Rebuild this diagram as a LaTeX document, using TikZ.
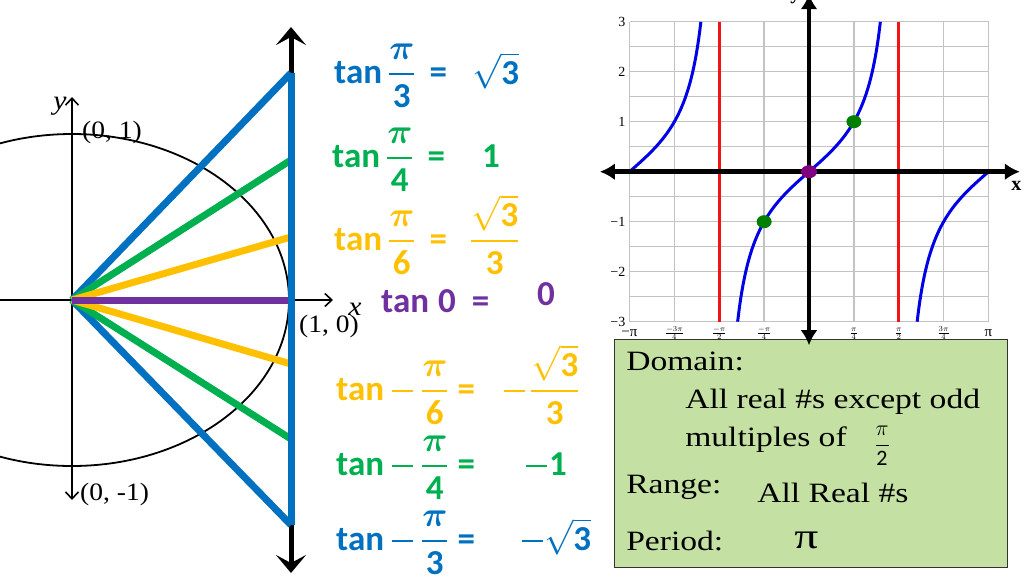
\RequirePackage{fix-cm}
\documentclass[tikz,border=0pt]{standalone}
\usepackage{amsmath}
\usepackage{fontspec}
\setmainfont{Liberation Serif}
\newfontfamily\calib{Carlito}
\usetikzlibrary{arrows.meta}

\definecolor{pblue}{RGB}{0,112,192}
\definecolor{pgreen}{RGB}{0,176,80}
\definecolor{pyellow}{RGB}{255,192,0}
\definecolor{ppurple}{RGB}{112,48,160}
\definecolor{boxgreen}{RGB}{196,224,162}
\definecolor{gridgray}{RGB}{195,195,195}
\definecolor{dotgreen}{RGB}{0,128,0}
\definecolor{dotpurple}{RGB}{128,0,128}
\definecolor{curveblue}{RGB}{0,0,230}
\definecolor{asymred}{RGB}{240,20,20}

\newcommand\bfr[2]{\genfrac{}{}{2.2pt}{0}{#1}{#2}}
\newcommand\bpi{\boldsymbol{\pi}}
\newcommand\bminus{\rule[7.6pt]{21pt}{2.6pt}}

\tikzset{
  ray/.style={line width=7pt},
  thinaxis/.style={line width=1.6pt, -{Straight Barb[length=7pt,width=13pt,line width=1.6pt]}},
  lefttxt/.style={font=\fontsize{25}{28}\selectfont, inner sep=0pt, xscale=1.1},
  tanlab/.style={font=\calib\bfseries\fontsize{35}{40}\selectfont, inner sep=0pt, anchor=base west},
  gridline/.style={gridgray, line width=1.3pt},
  asym/.style={asymred, line width=3pt},
  curve/.style={curveblue, line width=3pt},
  ytick/.style={font=\fontsize{14}{16}\selectfont, inner sep=0pt, anchor=east, xshift=-4pt},
  xtick/.style={font=\fontsize{11}{12}\selectfont, inner sep=0pt, anchor=base},
  gaxis/.style={line width=4.5pt, {Latex[length=15pt,width=17pt]}-{Latex[length=15pt,width=17pt]}},
  boxtxt/.style={font=\fontsize{28}{32}\selectfont, inner sep=0pt, anchor=base west, xscale=1.2},
}

\begin{document}
\begin{tikzpicture}[x=1pt,y=-1pt]
\useasboundingbox (0,0) rectangle (1024,576);

% ---------- left: unit circle ----------
\coordinate (O) at (72,300);
\draw[line width=1.8pt] (O) ellipse [x radius=217pt, y radius=166pt];
\draw[thinaxis] (0,300) -- (333,300);
\draw[thinaxis, {Straight Barb[length=7pt,width=13pt,line width=1.6pt]}-{Straight Barb[length=7pt,width=13pt,line width=1.6pt]}] (72,97) -- (72,500);

\node[lefttxt, font=\itshape\fontsize{27}{28}\selectfont] (ylab) at (60,106) {y};
\node[lefttxt, anchor=west] (p01) at (82,132) {(0, 1)};
\node[lefttxt, anchor=west] (p0m1) at (80,494) {(0, -1)};
\node[lefttxt, anchor=west] (p10) at (299,326) {(1, 0)};
\node[lefttxt, font=\itshape\fontsize{27}{28}\selectfont] (xlab) at (355,309) {x};

\coordinate (E1) at (291,73);
\coordinate (E2) at (291,160);
\coordinate (E3) at (291,237);
\coordinate (E4) at (291,300);
\coordinate (E5) at (291,364);
\coordinate (E6) at (291,439);
\coordinate (E7) at (291,525);
\coordinate (Vt) at (291,27);
\coordinate (Vb) at (291,573);

\draw[line width=5pt, {Stealth[length=18pt,width=30pt,inset=8pt]}-{Stealth[length=18pt,width=30pt,inset=8pt]}] (Vt) -- (Vb);
\draw[ray, pblue] (O) -- (E1);
\draw[ray, pblue] (O) -- (E7);
\draw[ray, pgreen] (O) -- (E2);
\draw[ray, pgreen] (O) -- (E6);
\draw[ray, pyellow] (O) -- (E3);
\draw[ray, pyellow] (O) -- (E5);
\draw[ray, ppurple] (O) -- (E4);
\draw[ray, pblue] (E1) -- (E7);

% ---------- tan labels ----------
\node[tanlab, text=pblue] (t1) at (334,83) {tan\hspace{6pt}$\bfr{\bpi}{\text{3}}$\hspace{14pt}=};
\node[tanlab, text=pblue] (v1) at (472,84) {$\sqrt{\text{3}}$};
\node[tanlab, text=pgreen] (t2) at (332,167) {tan\hspace{6pt}$\bfr{\bpi}{\text{4}}$\hspace{14pt}=};
\node[tanlab, text=pgreen] (v2) at (482,167) {1};
\node[tanlab, text=pyellow] (t3) at (334,250) {tan\hspace{6pt}$\bfr{\bpi}{\text{6}}$\hspace{14pt}=};
\node[tanlab, text=pyellow] (v3) at (470,250) {$\bfr{\sqrt{\text{3}}}{\text{3}}$};
\node[tanlab, text=ppurple] (t4) at (381,312) {tan\hspace{9pt}0\hspace{16pt}=};
\node[tanlab, text=ppurple] (v4) at (537,305) {0};
\node[tanlab, text=pyellow] (t5) at (336,400) {tan\hspace{8pt}\bminus\hspace{8pt}$\bfr{\bpi}{\text{6}}$\hspace{9pt}=};
\node[tanlab, text=pyellow] (v5) at (504,400) {\bminus\hspace{5pt}$\bfr{\sqrt{\text{3}}}{\text{3}}$};
\node[tanlab, text=pgreen] (t6) at (336,475) {tan\hspace{8pt}\bminus\hspace{8pt}$\bfr{\bpi}{\text{4}}$\hspace{9pt}=};
\node[tanlab, text=pgreen] (v6) at (526,475) {\bminus\hspace{2pt}1};
\node[tanlab, text=pblue] (t7) at (336,550) {tan\hspace{8pt}\bminus\hspace{8pt}$\bfr{\bpi}{\text{3}}$\hspace{9pt}=};
\node[tanlab, text=pblue] (v7) at (522,550) {\bminus\hspace{1pt}$\sqrt{\text{3}}$};

% ---------- graph ----------
\begin{scope}[shift={(809,171.7)}, x=57.14pt, y=50pt]
  \foreach \i in {-4,...,4} \draw[gridline] ({\i*pi/4},-3) -- ({\i*pi/4},3);
  \foreach \j in {-6,...,6} \draw[gridline] (-pi,{\j/2}) -- (pi,{\j/2});
  \draw[asym] ({-pi/2},-3) -- ({-pi/2},3);
  \draw[asym] ({pi/2},-3) -- ({pi/2},3);
  \draw[curve] plot[domain=-pi:-1.8925, samples=60, smooth] (\x,{tan(\x r)});
  \draw[curve] plot[domain=-1.249:1.249, samples=80, smooth] (\x,{tan(\x r)});
  \draw[curve] plot[domain=1.8925:pi, samples=60, smooth] (\x,{tan(\x r)});
  \foreach \v/\t in {3/3,2/2,1/1,-1/−1,-2/−2,-3/−3}
    \node[ytick] (yt\v) at (-pi,\v) {\t};
  \node[xtick, font=\fontsize{15}{16}\selectfont, yshift=-15pt] (xtm4) at (-pi,-3) {−π};
  \node[xtick, font=\fontsize{15}{16}\selectfont, yshift=-15pt] (xtp4) at (pi,-3) {π};
  \node[xtick, yshift=-14pt] (xtm3) at ({-3*pi/4},-3) {$\frac{-3\pi}{4}$};
  \node[xtick, yshift=-14pt] (xtm2) at ({-pi/2},-3) {$\frac{-\pi}{2}$};
  \node[xtick, yshift=-14pt] (xtm1) at ({-pi/4},-3) {$\frac{-\pi}{4}$};
  \node[xtick, yshift=-14pt] (xtp1) at ({pi/4},-3) {$\frac{\pi}{4}$};
  \node[xtick, yshift=-14pt] (xtp2) at ({pi/2},-3) {$\frac{\pi}{2}$};
  \node[xtick, yshift=-14pt] (xtp3) at ({3*pi/4},-3) {$\frac{3\pi}{4}$};
\end{scope}

% ---------- info box ----------
\node[draw=black!80, line width=1.2pt, fill=boxgreen, minimum width=393pt, minimum height=228pt, anchor=north west, inner sep=0pt] (box) at (614,339) {};
\node[boxtxt] (dom) at (626,370) {Domain:};
\node[boxtxt] (dom2) at (685,408) {All real \#s except odd};
\node[boxtxt] (dom3) at (685,446) {multiples of};
\node[font=\fontsize{22}{24}\selectfont, inner sep=0pt] (half) at (882,446) {$\genfrac{}{}{1.2pt}{0}{\pi}{\text{\calib 2}}$};
\node[boxtxt] (rng) at (626,493) {Range:};
\node[boxtxt] (rng2) at (757,502) {All Real \#s};
\node[boxtxt] (per) at (626,550) {Period:};
\node[boxtxt, font=\fontsize{36}{38}\selectfont, xscale=1.1] (per2) at (794,548) {π};

% ---------- graph axes and points ----------
\begin{scope}[shift={(809,171.7)}, x=57.14pt, y=50pt]
  \draw[gaxis] (-3.66,0) -- (3.69,0);
  \draw[gaxis] (0,3.55) -- (0,-3.47);
  \fill[dotgreen] ({pi/4},1) ellipse [x radius=7.5pt, y radius=6.5pt];
  \fill[dotgreen] ({-pi/4},-1) ellipse [x radius=7.5pt, y radius=6.5pt];
  \fill[dotpurple] (0,0) ellipse [x radius=8pt, y radius=6.5pt];
  \node[font=\bfseries\fontsize{20}{22}\selectfont, inner sep=0pt] (gx) at (3.63,-0.28) {x};
  \node[font=\bfseries\fontsize{20}{22}\selectfont, inner sep=0pt, anchor=base] (gy) at (-0.24,3.45) {y};
\end{scope}
\end{tikzpicture}
\end{document}
